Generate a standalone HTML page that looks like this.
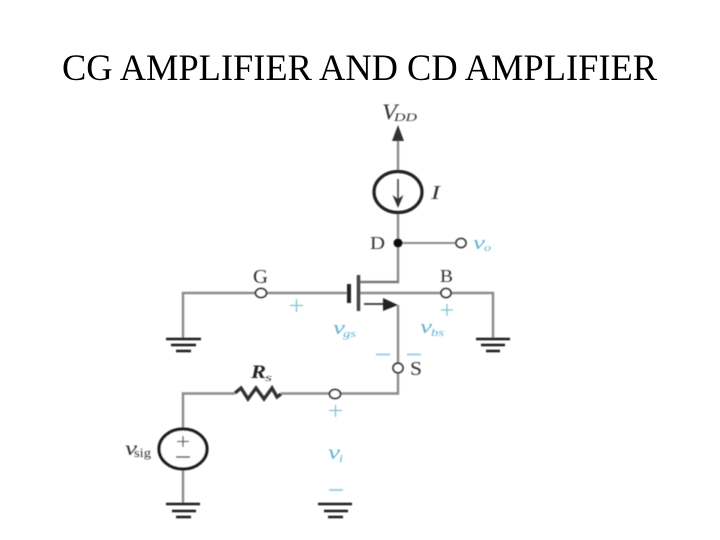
<!DOCTYPE html>
<html>
<head>
<meta charset="utf-8">
<style>
html,body{margin:0;padding:0;background:#fff;width:720px;height:540px;overflow:hidden}
svg{position:absolute;left:0;top:0}
</style>
</head>
<body>
<svg width="720" height="540" viewBox="0 0 720 540" xmlns="http://www.w3.org/2000/svg">
<defs><filter id="b" x="-5%" y="-5%" width="110%" height="110%"><feGaussianBlur stdDeviation="0.6"/></filter></defs>
<rect width="720" height="540" fill="#fff"/>
<text x="62" y="80" font-family="'Liberation Serif',serif" font-size="36.5" textLength="595" lengthAdjust="spacingAndGlyphs" fill="#000">CG AMPLIFIER AND CD AMPLIFIER</text>
<g filter="url(#b)">
<g fill="none" stroke="#8c8c8c" stroke-width="2.4">
<path d="M398 138V171M398 213V282H360"/>
<path d="M398 243H455" stroke-width="2"/>
<path d="M347 293H183V339"/>
<path d="M360 293H441M451 293H493V339"/>
<path d="M398 305V363M398 373V393.500H340M330 393.500H281M235 393.500H183V429M183 469V504"/>
<path d="M364 304H384" stroke="#333" stroke-width="1.8"/>
</g>
<path d="M398 125L392 141H404Z" fill="#333"/>
<path d="M383 298V311L398 305Z" fill="#222"/>
<ellipse cx="398" cy="192" rx="24" ry="20.500" fill="none" stroke="#222" stroke-width="3.200"/>
<path d="M398 179V205" stroke="#555" stroke-width="1.8"/>
<path d="M392.500 195L398 208L403.500 195L398 199Z" fill="#333"/>
<circle cx="398" cy="243" r="4.500" fill="#111"/>
<ellipse cx="461" cy="243" rx="5" ry="4.500" fill="#fff" stroke="#333" stroke-width="1.800"/>
<ellipse cx="261" cy="293" rx="5.500" ry="4.500" fill="#fff" stroke="#333" stroke-width="1.800"/>
<ellipse cx="446" cy="293" rx="5" ry="4.500" fill="#fff" stroke="#333" stroke-width="1.800"/>
<ellipse cx="398" cy="368" rx="5" ry="4.800" fill="#fff" stroke="#333" stroke-width="1.800"/>
<ellipse cx="335" cy="394" rx="5.500" ry="4.500" fill="#fff" stroke="#333" stroke-width="1.800"/>
<path d="M349 284V303" stroke="#222" stroke-width="4"/>
<path d="M358.500 275V311" stroke="#444" stroke-width="3.500"/>
<path d="M360 282H398" stroke="#777" stroke-width="2"/>
<path d="M235 393L241 388L248 399L256 388L264 399L272 388L277 397L281 394" fill="none" stroke="#333" stroke-width="3.400"/>
<ellipse cx="183" cy="449" rx="24" ry="20" fill="#fff" stroke="#1a1a1a" stroke-width="3.200"/>
<path d="M177 441.500H189M183 436V447" stroke="#555" stroke-width="1.300"/>
<path d="M176 457H190" stroke="#555" stroke-width="1.500"/>
<g stroke="#1a1a1a" stroke-width="2.400">
<path d="M166 339H201M171 345H196M176 351H191"/>
<path d="M476 339H510M481 345H505M486 351H500"/>
<path d="M166 504H200M172 511H196M176 517H191"/>
<path d="M318 504H352M324 511H348M328 517H343"/>
</g>
<g stroke="#7fc4d8" stroke-width="1.300" fill="none">
<path d="M290 305.500H303M296.500 299V312"/>
<path d="M441 310H453M447 304V316"/>
<path d="M329 410.500H342M335.500 405V417" />
</g>
<g stroke="#9fd3e2" stroke-width="2">
<path d="M376 354.500H390M407 354.500H421M329 490H343"/>
</g>
<g font-family="'Liberation Serif',serif" fill="#333">
<text x="382" y="119" font-size="22" font-style="italic" textLength="15" lengthAdjust="spacingAndGlyphs">V</text>
<text x="394" y="121" font-size="12" font-style="italic" textLength="23" lengthAdjust="spacingAndGlyphs">DD</text>
<text x="431" y="199" font-size="20" font-style="italic" textLength="9" lengthAdjust="spacingAndGlyphs">I</text>
<text x="370" y="249" font-size="18" textLength="15" lengthAdjust="spacingAndGlyphs">D</text>
<text x="253" y="283" font-size="20" textLength="15" lengthAdjust="spacingAndGlyphs">G</text>
<text x="440" y="282" font-size="18" textLength="13" lengthAdjust="spacingAndGlyphs">B</text>
<text x="410" y="375" font-size="20" textLength="12" lengthAdjust="spacingAndGlyphs">S</text>
<text x="251" y="378" font-size="19" font-style="italic" font-weight="bold" fill="#222" textLength="15" lengthAdjust="spacingAndGlyphs">R</text>
<text x="265" y="381" font-size="11" font-style="italic" textLength="7" lengthAdjust="spacingAndGlyphs">s</text>
<text x="125" y="455" font-size="20" font-style="italic" textLength="12" lengthAdjust="spacingAndGlyphs">v</text>
<text x="134" y="457" font-size="13" textLength="17" lengthAdjust="spacingAndGlyphs">sig</text>
</g>
<g font-family="'Liberation Serif',serif" fill="#5db3cd" font-style="italic">
<text x="473" y="249" font-size="19" textLength="12" lengthAdjust="spacingAndGlyphs">v</text><text x="484" y="251" font-size="11" textLength="7" lengthAdjust="spacingAndGlyphs">o</text>
<text x="333" y="334" font-size="19" textLength="12" lengthAdjust="spacingAndGlyphs">v</text><text x="343" y="337" font-size="11" textLength="13" lengthAdjust="spacingAndGlyphs">gs</text>
<text x="420" y="333" font-size="19" textLength="12" lengthAdjust="spacingAndGlyphs">v</text><text x="431" y="336" font-size="11" textLength="13" lengthAdjust="spacingAndGlyphs">bs</text>
<text x="328" y="459" font-size="20" textLength="12" lengthAdjust="spacingAndGlyphs">v</text><text x="339" y="462" font-size="10" textLength="4" lengthAdjust="spacingAndGlyphs">i</text>
</g>
</g>
</svg>
</body>
</html>
